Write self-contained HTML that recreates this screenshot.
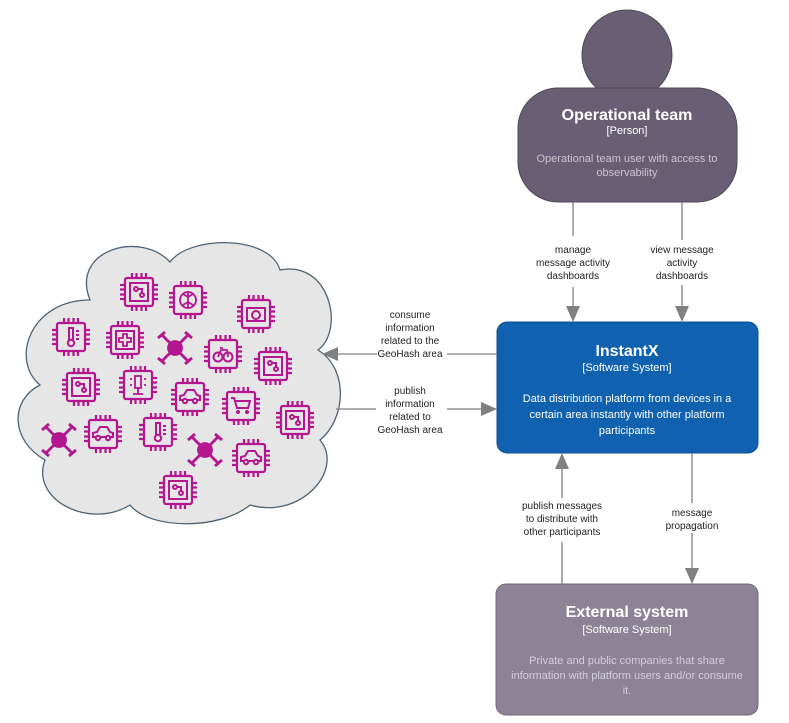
<!DOCTYPE html>
<html><head><meta charset="utf-8"><style>
html,body{margin:0;padding:0;background:#fff;}
svg{display:block;font-family:"Liberation Sans",Arial,sans-serif;}
</style></head><body>
<svg width="789" height="723" viewBox="0 0 789 723" xmlns="http://www.w3.org/2000/svg">
<defs>
<g id="chip" fill="none" stroke="#b3168e" stroke-width="2.2">
<rect x="-14" y="-14" width="28" height="28" rx="2"/>
<path d="M-7,-14v-5M-2.5,-14v-5M2.5,-14v-5M7,-14v-5M-7,14v5M-2.5,14v5M2.5,14v5M7,14v5M-14,-7h-5M-14,-2.5h-5M-14,2.5h-5M-14,7h-5M14,-7h5M14,-2.5h5M14,2.5h5M14,7h5"/>
</g>
<g id="board"><use href="#chip"/><g fill="none" stroke="#b3168e" stroke-width="2"><rect x="-9" y="-9" width="18" height="18"/><circle cx="-3" cy="-3" r="2"/><circle cx="3" cy="3" r="2"/><path d="M-1,-3h4v4"/></g></g>
<g id="drone" stroke="#b3168e" stroke-width="2.8" fill="#b3168e"><circle r="6.5"/><path d="M-13,-13L13,13M13,-13L-13,13M-17,-10l7,-6M17,-10l-7,-6M-17,10l7,6M17,10l-7,6" fill="none"/></g>
<g id="car" fill="none" stroke="#b3168e" stroke-width="2"><use href="#chip"/><path d="M-10,3v-4l4,-1l3,-5h7l3,5l3,1v4z"/><circle cx="-5" cy="4" r="2.2" fill="#e6e6e6"/><circle cx="5" cy="4" r="2.2" fill="#e6e6e6"/></g>
<g id="therm" fill="none" stroke="#b3168e" stroke-width="2"><use href="#chip"/><path d="M-2,4v-13h4v13"/><circle cx="0" cy="6" r="3.2"/><path d="M5,-6h3M5,-2h3M5,2h3"/></g>
</defs>
<!-- cloud -->
<path d="M90,300 C70,250 140,230 170,262 C190,235 270,235 280,270 C330,260 345,330 318,350 C350,370 345,420 320,440 C345,470 300,520 250,505 C220,530 150,530 130,505 C90,530 30,500 45,460 C10,440 10,400 40,385 C10,360 30,300 90,300 Z" fill="#e6e6e6" stroke="#4f6275" stroke-width="1.3"/>
<use href="#board" x="139" y="292"/>
<g transform="translate(188,300)"><use href="#chip"/><path d="M0,-8v16M0,-3l-5,-3M0,-3l5,-3M0,2l-5,3M0,2l5,3" stroke="#b3168e" stroke-width="1.8" fill="none"/><circle cx="0" cy="0" r="8" stroke="#b3168e" stroke-width="1.8" fill="none"/></g>
<g transform="translate(256,314)"><use href="#chip"/><rect x="-9" y="-6" width="18" height="13" stroke="#b3168e" stroke-width="2" fill="none"/><circle cx="0" cy="1" r="4" stroke="#b3168e" stroke-width="2" fill="none"/></g>
<use href="#therm" x="71" y="337"/>
<g transform="translate(125,340)"><use href="#chip"/><rect x="-9" y="-9" width="18" height="18" stroke="#b3168e" stroke-width="2" fill="none"/><path d="M-2,-6h4v4h4v4h-4v4h-4v-4h-4v-4h4z" stroke="#b3168e" stroke-width="1.8" fill="none"/></g>
<use href="#drone" x="175" y="348"/>
<g transform="translate(223,354)"><use href="#chip"/><circle cx="-5" cy="3" r="4.5" stroke="#b3168e" stroke-width="2" fill="none"/><circle cx="5" cy="3" r="4.5" stroke="#b3168e" stroke-width="2" fill="none"/><path d="M-5,3l3,-7h6l1,7M-3,-6h3" stroke="#b3168e" stroke-width="1.8" fill="none"/></g>
<use href="#board" x="273" y="366"/>
<use href="#board" x="81" y="387"/>
<g transform="translate(138,385)"><use href="#chip"/><rect x="-3" y="-9" width="6" height="12" stroke="#b3168e" stroke-width="1.8" fill="none"/><path d="M0,3v6M-5,9h10M-8,-6h2M6,-6h2M-8,0h2M6,0h2" stroke="#b3168e" stroke-width="1.8" fill="none"/></g>
<use href="#car" x="190" y="397"/>
<g transform="translate(241,406)"><use href="#chip"/><path d="M-10,-8h3l3,10h11l2,-7h-15" stroke="#b3168e" stroke-width="2" fill="none"/><circle cx="-3" cy="6" r="2" fill="#b3168e"/><circle cx="6" cy="6" r="2" fill="#b3168e"/></g>
<use href="#board" x="295" y="420"/>
<use href="#drone" x="59" y="440"/>
<use href="#car" x="103" y="434"/>
<use href="#therm" x="158" y="432"/>
<use href="#drone" x="205" y="450"/>
<use href="#car" x="251" y="458"/>
<use href="#board" x="178" y="490"/>

<!-- person -->
<circle cx="627" cy="55" r="45" fill="#685f74" stroke="#4f4858" stroke-width="1"/>
<rect x="518" y="88" width="219" height="114" rx="40" fill="#685f74" stroke="#4f4858" stroke-width="1"/>
<text x="627" y="120" text-anchor="middle" fill="#fff" font-size="16" font-weight="bold">Operational team</text>
<text x="627" y="134" text-anchor="middle" fill="#fff" font-size="11">[Person]</text>
<text x="627" y="162" text-anchor="middle" fill="#c9c3d0" font-size="11">Operational team user with access to</text>
<text x="627" y="176" text-anchor="middle" fill="#c9c3d0" font-size="11">observability</text>

<!-- InstantX -->
<rect x="497" y="322" width="261" height="131" rx="10" fill="#1061b0" stroke="#0d4f90" stroke-width="1"/>
<text x="627" y="356" text-anchor="middle" fill="#fff" font-size="16" font-weight="bold">InstantX</text>
<text x="627" y="371" text-anchor="middle" fill="#fff" font-size="11">[Software System]</text>
<text x="627" y="402" text-anchor="middle" fill="#fff" font-size="11">Data distribution platform from devices in a</text>
<text x="627" y="418" text-anchor="middle" fill="#fff" font-size="11">certain area instantly with other platform</text>
<text x="627" y="434" text-anchor="middle" fill="#fff" font-size="11">participants</text>

<!-- External -->
<rect x="496" y="584" width="262" height="131" rx="10" fill="#8c8496" stroke="#6f6879" stroke-width="1"/>
<text x="627" y="617" text-anchor="middle" fill="#fff" font-size="16" font-weight="bold">External system</text>
<text x="627" y="633" text-anchor="middle" fill="#fff" font-size="11">[Software System]</text>
<text x="627" y="664" text-anchor="middle" fill="#d2cdd7" font-size="11">Private and public companies that share</text>
<text x="627" y="679" text-anchor="middle" fill="#d2cdd7" font-size="11">information with platform users and/or consume</text>
<text x="627" y="694" text-anchor="middle" fill="#d2cdd7" font-size="11">it.</text>

<!-- connectors -->
<g stroke="#808080" stroke-width="1.3" fill="none">
<path d="M573,202V236M573,287V308"/>
<path d="M682,202V240M682,285V308"/>
<path d="M497,354H447M377,354H337"/>
<path d="M336,409H376M447,409H483"/>
<path d="M562,584V542M562,498V468"/>
<path d="M692,453V503M692,533V570"/>
</g>
<g fill="#808080">
<path d="M566,306L573,322L580,306Z"/>
<path d="M675,306L682,322L689,306Z"/>
<path d="M338,347L322,354L338,361Z"/>
<path d="M481,402L497,409L481,416Z"/>
<path d="M555,469L562,453L569,469Z"/>
<path d="M685,568L692,584L699,568Z"/>
</g>
<g font-size="10" fill="#222" text-anchor="middle">
<text x="573" y="253">manage</text><text x="573" y="266">message activity</text><text x="573" y="279">dashboards</text>
<text x="682" y="253">view message</text><text x="682" y="266">activity</text><text x="682" y="279">dashboards</text>
<text x="410" y="318">consume</text><text x="410" y="331">information</text><text x="410" y="344">related to the</text><text x="410" y="357">GeoHash area</text>
<text x="410" y="394">publish</text><text x="410" y="407">information</text><text x="410" y="420">related to</text><text x="410" y="433">GeoHash area</text>
<text x="562" y="509">publish messages</text><text x="562" y="522">to distribute with</text><text x="562" y="535">other participants</text>
<text x="692" y="516">message</text><text x="692" y="529">propagation</text>
</g>
</svg>
</body></html>
